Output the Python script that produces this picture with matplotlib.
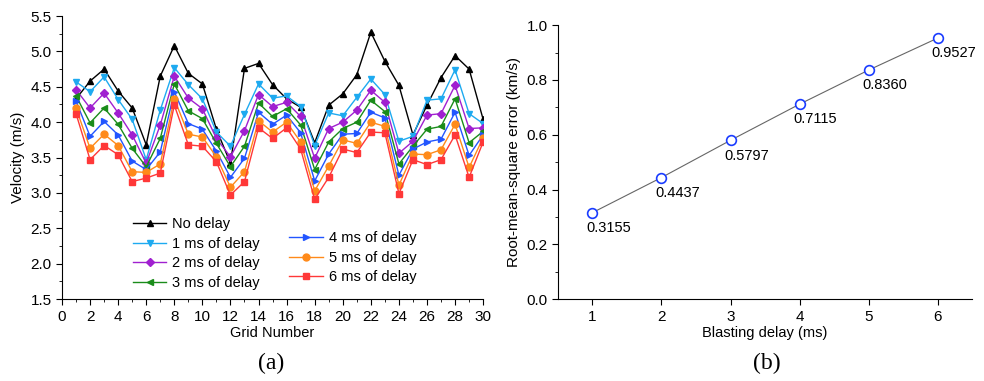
import numpy as np
import matplotlib
matplotlib.use('Agg')
import matplotlib.pyplot as plt
from matplotlib.ticker import MultipleLocator

plt.rcParams['font.family'] = ['Liberation Sans', 'DejaVu Sans']
plt.rcParams['font.size'] = 10

grid = np.arange(1, 31)
no_delay = [4.33, 4.58, 4.75, 4.44, 4.20, 3.68, 4.65, 5.08, 4.69, 4.54,
            3.90, 3.42, 4.76, 4.83, 4.53, 4.33, 4.21, 3.71, 4.24, 4.40,
            4.67, 5.27, 4.86, 4.52, 3.82, 4.24, 4.63, 4.94, 4.75, 4.04]
delay_1 = [4.57, 4.43, 4.64, 4.32, 4.04, 3.47, 4.17, 4.77, 4.53, 4.33,
           3.86, 3.66, 4.11, 4.54, 4.34, 4.37, 4.22, 3.67, 4.13, 4.09,
           4.35, 4.61, 4.39, 3.73, 3.80, 4.31, 4.33, 4.74, 4.12, 3.98]
delay_2 = [4.46, 4.20, 4.41, 4.13, 3.82, 3.42, 3.96, 4.65, 4.34, 4.19,
           3.77, 3.51, 3.88, 4.39, 4.22, 4.28, 4.08, 3.49, 3.91, 4.00,
           4.17, 4.45, 4.28, 3.56, 3.73, 4.10, 4.12, 4.52, 3.91, 3.92]
delay_3 = [4.37, 3.99, 4.20, 3.97, 3.63, 3.37, 3.77, 4.54, 4.16, 4.05,
           3.70, 3.37, 3.66, 4.27, 4.08, 4.19, 3.96, 3.33, 3.72, 3.91,
           4.00, 4.31, 4.15, 3.41, 3.66, 3.90, 3.94, 4.33, 3.71, 3.87]
delay_4 = [4.30, 3.80, 4.01, 3.82, 3.45, 3.33, 3.58, 4.43, 3.98, 3.90,
           3.59, 3.22, 3.49, 4.14, 3.97, 4.10, 3.85, 3.17, 3.55, 3.83,
           3.84, 4.14, 4.06, 3.25, 3.62, 3.72, 3.76, 4.14, 3.53, 3.82]
delay_5 = [4.20, 3.63, 3.83, 3.67, 3.30, 3.29, 3.41, 4.33, 3.83, 3.79,
           3.51, 3.08, 3.30, 4.02, 3.86, 4.00, 3.72, 3.03, 3.38, 3.75,
           3.70, 4.00, 3.94, 3.11, 3.55, 3.54, 3.61, 3.97, 3.36, 3.78]
delay_6 = [4.12, 3.47, 3.67, 3.54, 3.16, 3.21, 3.28, 4.24, 3.68, 3.66,
           3.44, 2.97, 3.16, 3.92, 3.77, 3.92, 3.62, 2.91, 3.22, 3.62,
           3.57, 3.86, 3.85, 2.99, 3.47, 3.40, 3.47, 3.82, 3.22, 3.72]

delays = [1, 2, 3, 4, 5, 6]
rmse = [0.3155, 0.4437, 0.5797, 0.7115, 0.8360, 0.9527]

series = [
    (no_delay, 'No delay', 'black', '^'),
    (delay_1, '1 ms of delay', '#1eaaf0', 'v'),
    (delay_2, '2 ms of delay', '#a020d0', 'D'),
    (delay_3, '3 ms of delay', '#1a8c1a', '<'),
    (delay_4, '4 ms of delay', '#2255ff', '>'),
    (delay_5, '5 ms of delay', '#ff8a1a', 'o'),
    (delay_6, '6 ms of delay', '#ff3838', 's'),
]

fig = plt.figure(figsize=(9.84, 3.81), dpi=100)
ax1 = fig.add_axes([0.063, 0.215, 0.428, 0.743])
ax2 = fig.add_axes([0.567, 0.215, 0.421, 0.719])

lines = []
for vals, label, color, marker in series:
    ms = 4 if marker == 'D' else 5
    ln, = ax1.plot(grid, vals, color=color, marker=marker, markersize=ms,
                   linewidth=1, label=label)
    lines.append(ln)

ax1.set_xlim(0, 30)
ax1.set_ylim(1.5, 5.5)
ax1.xaxis.set_major_locator(MultipleLocator(2))
ax1.xaxis.set_minor_locator(MultipleLocator(1))
ax1.yaxis.set_major_locator(MultipleLocator(0.5))
ax1.yaxis.set_minor_locator(MultipleLocator(0.25))
ax1.yaxis.set_major_formatter(plt.FormatStrFormatter('%.1f'))
ax1.set_xlabel('Grid Number', labelpad=2, fontsize=10.5)
ax1.set_ylabel('Velocity (m/s)', labelpad=4, fontsize=11)

leg1 = ax1.legend(handles=lines[:4], loc='upper left', bbox_to_anchor=(0.151, 0.315),
                  frameon=False, borderpad=0, handlelength=2.3,
                  handletextpad=0.4, labelspacing=0.38, fontsize=10.5)
ax1.add_artist(leg1)
ax1.legend(handles=lines[4:], loc='upper left', bbox_to_anchor=(0.522, 0.265),
           frameon=False, borderpad=0, handlelength=2.3,
           handletextpad=0.4, labelspacing=0.38, fontsize=10.5)

ax2.plot(delays, rmse, color='#666666', linewidth=0.8, marker='o',
         markersize=7, markerfacecolor='white', markeredgecolor='#1a3cff',
         markeredgewidth=1.2)
for d, r in zip(delays, rmse):
    ax2.annotate('%.4f' % r, (d, r), xytext=(-4.5, -11), textcoords='offset points',
                 ha='left', va='center', fontsize=10.5)

ax2.set_xlim(0.5, 6.5)
ax2.set_ylim(0, 1.0)
ax2.xaxis.set_major_locator(MultipleLocator(1))
ax2.yaxis.set_major_locator(MultipleLocator(0.2))
ax2.yaxis.set_minor_locator(MultipleLocator(0.1))
ax2.yaxis.set_major_formatter(plt.FormatStrFormatter('%.1f'))
ax2.set_xlabel('Blasting delay (ms)', labelpad=2, fontsize=10.5)
ax2.set_ylabel('Root-mean-square error (km/s)', labelpad=4, fontsize=11)

for ax in (ax1, ax2):
    ax.spines['top'].set_visible(False)
    ax.spines['right'].set_visible(False)
    ax.tick_params(which='both', direction='out', labelsize=11)
    ax.tick_params(which='major', length=4)
    ax.tick_params(which='minor', length=2)

fig.text(0.276, 0.047, '(a)', ha='center', va='center', fontsize=17,
         family='Liberation Serif')
fig.text(0.779, 0.047, '(b)', ha='center', va='center', fontsize=17,
         family='Liberation Serif')

fig.savefig('out.png', dpi=100)
